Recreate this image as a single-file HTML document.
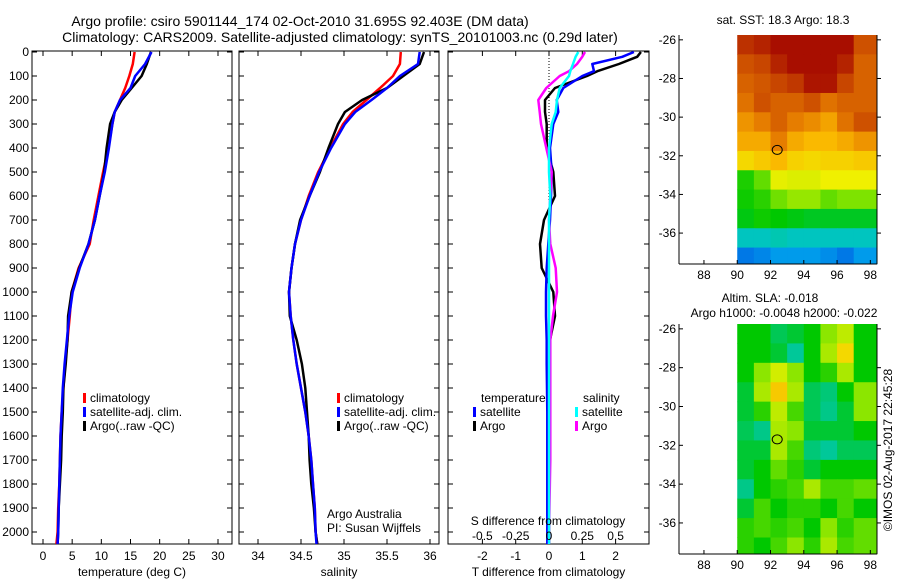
<!DOCTYPE html>
<html><head><meta charset="utf-8"><style>
body{margin:0;background:#fff}
svg{display:block;font-family:"Liberation Sans",sans-serif}
</style></head><body>
<svg id="c" width="900" height="580" viewBox="0 0 900 580">
<text x="300" y="26" font-size="14" text-anchor="middle">Argo profile: csiro 5901144_174 02-Oct-2010 31.695S 92.403E (DM data)</text>
<text x="340" y="42" font-size="14" text-anchor="middle">Climatology: CARS2009. Satellite-adjusted climatology: synTS_20101003.nc (0.29d later)</text>
</svg>
<script>
// ---- profile data ----
const depths = [0,50,100,150,200,250,300,400,500,600,700,800,900,1000,1100,1200,1300,1400,1500,1600,1700,1800,1900,2000,2050];
const tempClim = [15.7,15.4,14.8,14.1,13.2,12.3,11.9,11.2,10.3,9.5,8.7,8.0,6.1,4.9,4.6,4.2,3.8,3.5,3.2,3.0,2.9,2.8,2.6,2.5,2.3];
const tempSat  = [18.6,17.5,15.8,15.0,13.2,12.3,11.9,11.3,10.6,9.7,8.9,7.8,6.3,5.1,4.5,4.1,3.7,3.4,3.2,3.0,2.9,2.8,2.7,2.6,2.5];
const tempArgo = [18.5,17.8,16.9,15.2,13.5,12.3,11.5,10.9,10.5,9.7,8.9,7.8,6.2,4.9,4.3,4.2,3.9,3.5,3.4,3.2,3.1,2.9,2.7,2.6,2.5];
const salClim = [35.66,35.65,35.57,35.42,35.26,35.10,34.99,34.84,34.70,34.59,34.50,34.43,34.39,34.36,34.38,34.41,34.45,34.50,34.55,34.59,34.62,34.64,34.66,34.67,34.69];
const salSat  = [35.88,35.86,35.65,35.50,35.32,35.13,35.01,34.85,34.71,34.60,34.50,34.43,34.39,34.36,34.38,34.41,34.45,34.50,34.55,34.59,34.62,34.64,34.66,34.67,34.68];
const salArgo = [35.93,35.88,35.69,35.50,35.21,35.01,34.93,34.82,34.72,34.60,34.49,34.43,34.39,34.36,34.37,34.45,34.51,34.55,34.57,34.59,34.60,34.62,34.65,34.67,34.69];
const diffDepths = [0,20,50,80,100,150,200,250,300,400,500,600,700,800,900,1000,1100,1200,1300,1500,1700,2000,2050];
const tDiffArgo = [2.76,2.65,2.1,1.45,1.14,0.18,-0.12,-0.12,-0.07,-0.07,0.13,0.18,-0.15,-0.27,-0.22,0.13,0.18,0.03,0.0,0.0,0.0,0.0,0.0];
const tDiffSat  = [2.55,2.2,1.3,1.35,1.0,0.43,0.23,0.28,0.13,0.03,0.08,0.06,0.03,-0.02,-0.07,-0.09,-0.09,-0.07,-0.07,-0.05,-0.05,-0.05,-0.05];
const sDiffArgo = [0.27,0.25,0.21,0.15,0.08,-0.02,-0.08,-0.07,-0.06,-0.02,0.02,0.01,0,0.01,0.05,0.06,0.03,0.01,0.01,0.01,0.01,0,0];
const sDiffSat  = [0.22,0.2,0.18,0.16,0.15,0.08,0.06,0.05,0.02,0,0,0.01,0,0,0,0,0,0,0,0,0,0,0];
const depthTicks = [0,100,200,300,400,500,600,700,800,900,1000,1100,1200,1300,1400,1500,1600,1700,1800,1900,2000];
const tempTicks = [0,5,10,15,20,25,30];
const salTicks = [34,34.5,35,35.5,36];
const tdTicks = [-2,-1,0,1,2];
const sdTicks = [-0.5,-0.25,0,0.25,0.5];
const sdTickLabels = ["-0.5","-0.25","0","0.25","0.5"];
// ---- map data (normalised 0..1), rows from -26 southwards, cols 90..98E ----
const mapLons = [90,91,92,93,94,95,96,97];
const sstGrid = [
[.93,.95,.98,.98,.98,.98,.98,.88],
[.88,.90,.95,.98,.98,.98,.95,.85],
[.85,.87,.90,.92,.97,.97,.90,.85],
[.82,.88,.85,.85,.88,.82,.85,.85],
[.77,.80,.85,.80,.78,.75,.82,.88],
[.74,.74,.80,.74,.72,.72,.74,.77],
[.68,.70,.72,.69,.68,.69,.69,.70],
[.47,.52,.64,.63,.63,.65,.65,.65],
[.46,.48,.53,.56,.56,.52,.54,.54],
[.44,.46,.45,.44,.43,.43,.43,.43],
[.32,.32,.34,.32,.32,.32,.32,.32],
[.15,.17,.20,.20,.20,.18,.15,.20]];
const slaGrid = [
[.45,.45,.40,.42,.45,.55,.60,.45],
[.45,.45,.42,.36,.45,.58,.68,.45],
[.45,.55,.62,.55,.45,.48,.58,.45],
[.42,.58,.70,.58,.40,.38,.45,.55],
[.42,.48,.60,.50,.40,.37,.42,.55],
[.40,.37,.58,.55,.42,.42,.42,.45],
[.42,.42,.58,.50,.38,.36,.40,.40],
[.42,.45,.52,.48,.42,.45,.45,.45],
[.37,.45,.48,.50,.58,.50,.50,.52],
[.42,.50,.45,.48,.48,.45,.50,.45],
[.48,.50,.48,.50,.45,.55,.48,.52],
[.48,.45,.50,.55,.48,.58,.50,.52]];
const lonTicks = [88,90,92,94,96,98];
const latTicks = [-26,-28,-30,-32,-34,-36];
const floatLon = 92.403, floatLat = -31.695;

const NS="http://www.w3.org/2000/svg";
const svg=document.getElementById('c');
function mk(tag,attrs,parent){const e=document.createElementNS(NS,tag);for(const k in attrs)e.setAttribute(k,attrs[k]);(parent||svg).appendChild(e);return e;}
function txt(x,y,s,size,anchor,parent){const e=mk('text',{x:x,y:y,'font-size':size||12,'text-anchor':anchor||'middle'},parent);e.textContent=s;return e;}

const TOP=51, BOT=544;
const yD=d=>52+d*0.24;
function panel(name,x0,x1,xf,xticks,xlabels,xtitle,ylabels){
  const g=mk('g',{});
  
  
  const r=mk('rect',{x:x0,y:TOP,width:x1-x0,height:BOT-TOP,fill:'none',stroke:'#000','stroke-width':1},g);
  
  
  depthTicks.forEach(d=>{const y=yD(d);
    mk('line',{x1:x0,y1:y,x2:x0+5,y2:y,stroke:'#000'},g);
    mk('line',{x1:x1-5,y1:y,x2:x1,y2:y,stroke:'#000'},g);
    if(ylabels){const t=txt(x0-3,y+4,String(d),12,'end',g);
      
      }
  });
  if(xticks){xticks.forEach((v,i)=>{const x=xf(v);
    mk('line',{x1:x,y1:TOP,x2:x,y2:TOP+5,stroke:'#000'},g);
    mk('line',{x1:x,y1:BOT-5,x2:x,y2:BOT,stroke:'#000'},g);
    const t=txt(x,560,xlabels[i],12,'middle',g);
    
    });}
  const tt=txt((x0+x1)/2,576,xtitle,12,'middle',g);
  
  
  return g;
}
function line(g,xs,ds,xf,col,name){
  const pts=xs.map((v,i)=>xf(v).toFixed(1)+','+yD(ds[i]).toFixed(1)).join(' ');
  const p=mk('polyline',{points:pts,fill:'none',stroke:col,'stroke-width':2.5,'stroke-linejoin':'round'},g);
  
  
}
function legend(g,x,y,items){
  items.forEach((it,i)=>{
    mk('rect',{x:x,y:y+i*14-9,width:3,height:10,fill:it[0]},g);
    const t=txt(x+7,y+i*14,it[1],12,'start',g);
    
    
  });
}
// temperature panel
const xT=v=>43+v*5.833;
const g1=panel('temperature-panel',32,232,xT,tempTicks,tempTicks.map(String),'temperature (deg C)',true);
line(g1,tempClim,depths,xT,'#f00','temp-climatology-line');
line(g1,tempArgo,depths,xT,'#000','temp-argo-line');
line(g1,tempSat,depths,xT,'#00f','temp-satellite-line');
legend(g1,83,402,[['#f00','climatology'],['#00f','satellite-adj. clim.'],['#000','Argo(..raw -QC)']]);
// salinity panel
const xS=v=>258+(v-34)*86;
const g2=panel('salinity-panel',239,439,xS,salTicks,["34","34.5","35","35.5","36"],'salinity',false);
line(g2,salClim,depths,xS,'#f00','sal-climatology-line');
line(g2,salArgo,depths,xS,'#000','sal-argo-line');
line(g2,salSat,depths,xS,'#00f','sal-satellite-line');
legend(g2,337,402,[['#f00','climatology'],['#00f','satellite-adj. clim.'],['#000','Argo(..raw -QC)']]);
const a1=txt(327,518,'Argo Australia',12,'start',g2);


const a2=txt(327,532,'PI: Susan Wijffels',12,'start',g2);


// difference panel
const xTD=v=>549+v*33.3;
const xSD=v=>549+v*133.2;
const g3=panel('difference-panel',448,649,xTD,tdTicks,tdTicks.map(String),'T difference from climatology',false);
mk('line',{x1:549,y1:52,x2:549,y2:yD(620),stroke:'#000','stroke-dasharray':'1,2'},g3);
line(g3,tDiffArgo,diffDepths,xTD,'#000','t-diff-argo-line');
line(g3,tDiffSat,diffDepths,xTD,'#00f','t-diff-satellite-line');
line(g3,sDiffArgo,diffDepths,xSD,'#f0f','s-diff-argo-line');
line(g3,sDiffSat,diffDepths,xSD,'#0ff','s-diff-satellite-line');
sdTicks.forEach((v,i)=>{const t=txt(xSD(v),540,sdTickLabels[i],12,'middle',g3);
  
  });
const st=txt(548,525,'S difference from climatology',12,'middle',g3);


const lt=txt(481,402,'temperature',12,'start',g3);


const ls=txt(583,402,'salinity',12,'start',g3);


legend(g3,473,416,[['#00f','satellite'],['#000','Argo']]);
legend(g3,575,416,[['#0ff','satellite'],['#f0f','Argo']]);

// maps
const cmapStops=[[0,[0,60,200]],[0.15,[0,120,230]],[0.25,[0,190,240]],[0.35,[0,200,170]],[0.45,[0,200,0]],[0.55,[140,230,0]],[0.65,[240,240,0]],[0.72,[250,185,0]],[0.8,[230,125,0]],[0.9,[200,70,0]],[1,[160,0,0]]];
function cmap(v){
  v=Math.max(0,Math.min(1,v));
  for(let i=1;i<cmapStops.length;i++){
    if(v<=cmapStops[i][0]){const a=cmapStops[i-1],b=cmapStops[i];const t=(v-a[0])/(b[0]-a[0]);
      const c=a[1].map((x,k)=>Math.round(x+(b[1][k]-x)*t));return 'rgb('+c.join(',')+')';}
  }
  return 'rgb(160,0,0)';
}
function map(name,top,bot,grid){
  const x0=679,x1=877,lonL=86.5,lonR=98.4,latT=-25.75,latB=-37.6;
  const xf=l=>x0+(l-lonL)/(lonR-lonL)*(x1-x0);
  const yf=l=>top+(latT-l)/(latT-latB)*(bot-top);
  const g=mk('g',{});
  
  
  grid.forEach((row,ri)=>{row.forEach((v,ci)=>{
    const la0=latT-ri, la1=Math.max(latB,latT-ri-1);
    const lo0=mapLons[ci], lo1=Math.min(lonR,mapLons[ci]+1+(ci===mapLons.length-1?1:0));
    const c=mk('rect',{x:xf(lo0),y:yf(la0),width:xf(lo1)-xf(lo0)+0.5,height:yf(la1)-yf(la0)+0.5,fill:cmap(v)},g);
    
    
  });});
  mk('line',{x1:x0,y1:top,x2:x0,y2:bot,stroke:'#000'},g);
  mk('line',{x1:x0,y1:bot,x2:x1,y2:bot,stroke:'#000'},g);
  mk('line',{x1:x1,y1:top,x2:x1,y2:bot,stroke:'#000'},g);
  lonTicks.forEach(l=>{const x=xf(l);
    mk('line',{x1:x,y1:bot,x2:x,y2:bot-4,stroke:'#000'},g);
    const t=txt(x,bot+15,String(l),12,'middle',g);
    
    });
  latTicks.forEach(l=>{const y=yf(l);
    mk('line',{x1:x0,y1:y,x2:x0+4,y2:y,stroke:'#000'},g);
    mk('line',{x1:x1,y1:y,x2:x1+4,y2:y,stroke:'#000'},g);
    const t=txt(x0-3,y+4,String(l),12,'end',g);
    
    });
  const c=mk('ellipse',{cx:xf(floatLon),cy:yf(floatLat),rx:5,ry:4.5,fill:'none',stroke:'#000'},g);
  
  
  return g;
}
const m1=map('sst-map',35,264,sstGrid);
const t1=txt(783,24,'sat. SST: 18.3 Argo: 18.3',12,'middle');


const m2=map('sla-map',324,554,slaGrid);
const t2=txt(770,302,'Altim. SLA: -0.018',12,'middle');


const t3=txt(784,317,'Argo h1000: -0.0048 h2000: -0.022',12,'middle');


const cp=txt(0,0,'©IMOS 02-Aug-2017 22:45:28',12,'middle');
cp.setAttribute('transform','translate(892,450) rotate(-90)');


</script>
</body></html>
